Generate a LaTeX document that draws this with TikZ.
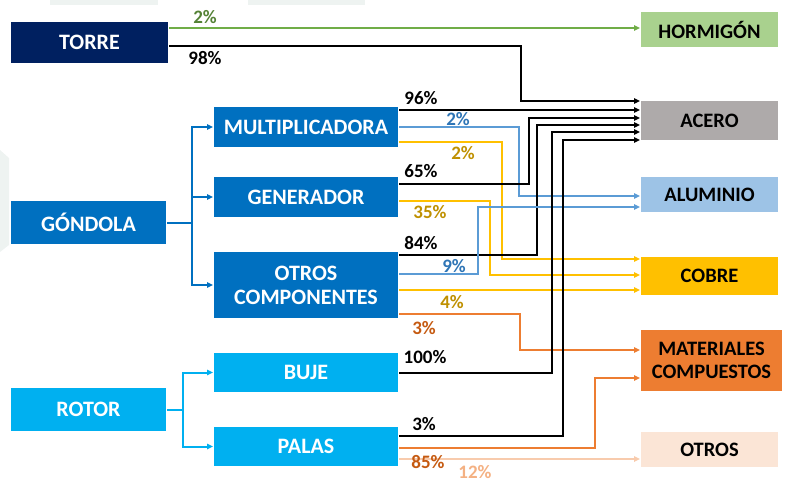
\documentclass[tikz,border=0pt]{standalone}
\usepackage{fontspec}
\setmainfont{Carlito}
\usetikzlibrary{arrows.meta}
\definecolor{navy}{HTML}{002060}
\definecolor{gblue}{HTML}{0070C0}
\definecolor{rblue}{HTML}{00B0F0}
\definecolor{hormigon}{HTML}{A9D18E}
\definecolor{acero}{HTML}{AEAAAA}
\definecolor{aluminio}{HTML}{9DC3E6}
\definecolor{cobre}{HTML}{FFC000}
\definecolor{compuestos}{HTML}{ED7D31}
\definecolor{otros}{HTML}{FBE5D6}
\definecolor{lgreen}{HTML}{70AD47}
\definecolor{dgreen}{HTML}{548235}
\definecolor{lblue}{HTML}{5B9BD5}
\definecolor{dblue}{HTML}{2E75B6}
\definecolor{dgold}{HTML}{BF9000}
\definecolor{dorange}{HTML}{C55A11}
\definecolor{peach}{HTML}{F8CBAD}
\definecolor{dpeach}{HTML}{F4B183}
\definecolor{wmark}{HTML}{EEF3F1}
\tikzset{
every picture/.style={
line width=2pt
}}
\begin{document}
\begin{tikzpicture}[x=1pt, y=-1pt, >={Triangle[length=6pt,width=5.5pt]},
part/.style = {rectangle, text=white, font=\fontsize{22}{24}\selectfont\bfseries, align=center, inner sep=0pt},
mat/.style = {rectangle, minimum width=137pt, font=\fontsize{20.5}{23.5}\selectfont\bfseries, align=center, inner sep=0pt},
pct/.style = {font=\fontsize{19}{20}\selectfont\bfseries, inner sep=0pt},
flow/.style = {->, line width=2pt}]
\useasboundingbox (0,0) rectangle (789,482);
% marca de agua
\fill[wmark] (50,0) rectangle (158,5);
\fill[wmark] (248,0) rectangle (365,5);
\fill[wmark] (0,150) -- (9,158) -- (9,245) -- (0,252) -- cycle;
% componentes
\node[part, fill=navy, minimum width=157pt, minimum height=41pt] at (89.5,42) (torre) {TORRE};
\node[part, fill=gblue, minimum width=155pt, minimum height=43pt] at (88.5,222.5) (gondola) {GÓNDOLA};
\node[part, fill=rblue, minimum width=155pt, minimum height=43pt] at (88.5,409.5) (rotor) {ROTOR};
\node[part, fill=gblue, minimum width=184pt, minimum height=40pt] at (306,127) (mult) {MULTIPLICADORA};
\node[part, fill=gblue, minimum width=184pt, minimum height=40pt] at (306,197) (gen) {GENERADOR};
\node[part, fill=gblue, minimum width=184pt, minimum height=66pt] at (306,285) (otc) {OTROS\\COMPONENTES};
\node[part, fill=rblue, minimum width=184pt, minimum height=39pt] at (306,372.5) (buje) {BUJE};
\node[part, fill=rblue, minimum width=184pt, minimum height=39pt] at (306,446.5) (palas) {PALAS};
% materiales
\node[mat, fill=hormigon, minimum height=35pt] at (709.5,29.5) (horm) {HORMIGÓN};
\node[mat, fill=acero, minimum height=39pt] at (709.5,120.5) (ace) {ACERO};
\node[mat, fill=aluminio, minimum height=35pt] at (709.5,194.5) (alu) {ALUMINIO};
\node[mat, fill=cobre, minimum height=38pt] at (709.5,276) (cob) {COBRE};
\node[mat, fill=compuestos, minimum width=141pt, minimum height=61pt] at (711.5,360.5) (comp) {MATERIALES\\COMPUESTOS};
\node[mat, fill=otros, minimum height=35pt] at (709.5,449.5) (otr) {OTROS};
% ramas
\coordinate (g) at (192,222.5);
\coordinate (r) at (183,409.5);
\draw[gblue] (gondola.east) -- (g);
\draw[gblue, ->] (g) |- (mult.west);
\draw[gblue, ->] (g) |- (gen.west);
\draw[gblue, ->] (g) |- (otc.west);
\draw[rblue] (rotor.east) -- (r);
\draw[rblue, ->] (r) |- (buje.west);
\draw[rblue, ->] (r) |- (palas.west);
% flujos
\draw[flow, lgreen] ([yshift=14pt]torre.east) -- ([yshift=1.5pt]horm.west);
\draw[flow] ([yshift=-4pt]torre.east) -| (521,101) -- ([yshift=19.5pt]ace.west);
\draw[flow] ([yshift=17pt]mult.east) -- ([yshift=10.5pt]ace.west);
\draw[flow, lblue] (mult.east) -| (519,196) -- ([yshift=-1.5pt]alu.west);
\draw[flow, cobre] ([yshift=-15pt]mult.east) -| (502,259) -- ([yshift=17pt]cob.west);
\draw[flow] ([yshift=13pt]gen.east) -| (529,118) -- ([yshift=2.5pt]ace.west);
\draw[flow, cobre] ([yshift=-4pt]gen.east) -| (490,275) -- ([yshift=1pt]cob.west);
\draw[flow] ([yshift=30pt]otc.east) -| (537,125) -- ([yshift=-4.5pt]ace.west);
\draw[flow, lblue] ([yshift=11pt]otc.east) -| (478,207) -- ([yshift=-12.5pt]alu.west);
\draw[flow, cobre] ([yshift=-5pt]otc.east) -- ([yshift=-14pt]cob.west);
\draw[flow, compuestos] ([yshift=-29pt]otc.east) -| (520,350) -- ([yshift=10.5pt]comp.west);
\draw[flow] (buje.east) -| (552,132) -- ([yshift=-11.5pt]ace.west);
\draw[flow] ([yshift=10.5pt]palas.east) -| (563,140) -- ([yshift=-19.5pt]ace.west);
\draw[flow, compuestos] ([yshift=-1.5pt]palas.east) -| (595,378) -- ([yshift=-17.5pt]comp.west);
\draw[flow, peach] ([yshift=-12.5pt]palas.east) -- ([yshift=-9.5pt]otr.west);
% porcentajes
\node[pct, text=dgreen] at (205,17) (p1) {2\%};
\node[pct] at (205,58) (p2) {98\%};
\node[pct] at (421,98) (p3) {96\%};
\node[pct, text=dblue] at (458,119) (p4) {2\%};
\node[pct, text=dgold] at (463,153) (p5) {2\%};
\node[pct] at (421,171) (p6) {65\%};
\node[pct, text=dgold] at (430,212) (p7) {35\%};
\node[pct] at (421,243) (p8) {84\%};
\node[pct, text=dblue] at (454,266) (p9) {9\%};
\node[pct, text=dgold] at (452,302) (p10) {4\%};
\node[pct, text=dorange] at (424,328) (p11) {3\%};
\node[pct] at (425,357) (p12) {100\%};
\node[pct] at (424,424) (p13) {3\%};
\node[pct, text=dorange] at (428,462) (p14) {85\%};
\node[pct, text=dpeach] at (475,472) (p15) {12\%};
\end{tikzpicture}
\end{document}
